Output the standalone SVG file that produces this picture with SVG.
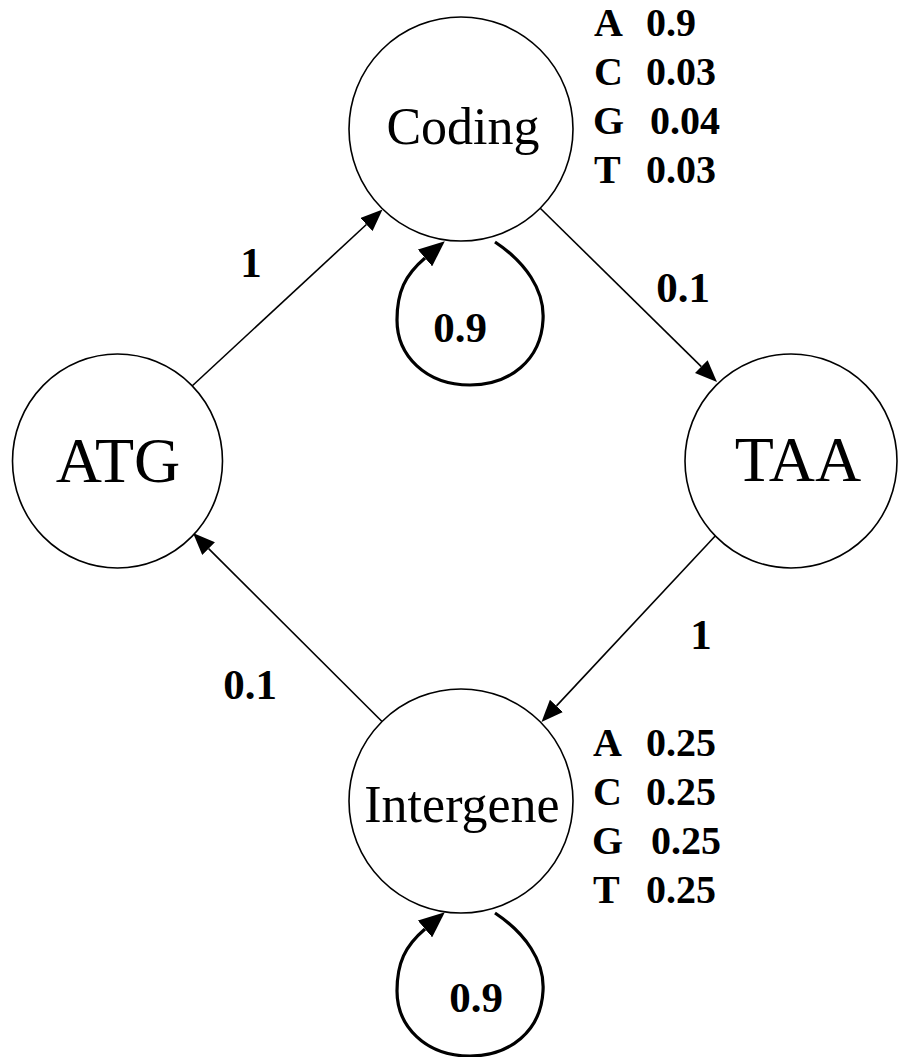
<svg xmlns="http://www.w3.org/2000/svg" width="900" height="1057" viewBox="0 0 900 1057">
<style>
.node{fill:#fff;stroke:#000;stroke-width:1.6}
.edge{fill:none;stroke:#000;stroke-width:1.6}
.loop{fill:none;stroke:#000;stroke-width:3.2}
.big{font-family:"Liberation Serif","Times New Roman",serif;font-size:64px;fill:#000;text-anchor:middle}
.mid{font-family:"Liberation Serif","Times New Roman",serif;font-size:52px;fill:#000;text-anchor:middle}
.lab{font-family:"Liberation Serif","Times New Roman",serif;font-size:43px;font-weight:bold;fill:#000;text-anchor:middle}
.em{font-family:"Liberation Serif","Times New Roman",serif;font-size:40px;font-weight:bold;fill:#000}
</style>
<defs>
<marker id="ah" markerUnits="userSpaceOnUse" markerWidth="22" markerHeight="18" viewBox="0 0 22 18" refX="0" refY="9" orient="auto">
<path d="M0,0 L22,9 L0,18 z" fill="#000"/>
</marker>
<marker id="ahl" markerUnits="userSpaceOnUse" markerWidth="26" markerHeight="22" viewBox="0 0 26 22" refX="0" refY="11" orient="auto">
<path d="M0,0 L26,11 L0,22 z" fill="#000"/>
</marker>
</defs>
<g id="connectors">
<line class="edge" x1="191" y1="387" x2="366.4" y2="224.5" marker-end="url(#ah)"/>
<line class="edge" x1="540" y1="208" x2="701.3" y2="366.6" marker-end="url(#ah)"/>
<line class="edge" x1="718" y1="533" x2="556.5" y2="705.9" marker-end="url(#ah)"/>
<line class="edge" x1="382.5" y1="722" x2="208.6" y2="548.6" marker-end="url(#ah)"/>
<path class="loop" d="M495,242 C525,262 545,290 543,320 C541,360 510,385 470,385 C425,385 397,355 397,320 C397,292 405,275 425,258" marker-end="url(#ahl)"/>
<path class="loop" d="M495,913 C525,933 545,961 543,991 C541,1031 510,1056 470,1056 C425,1056 397,1026 397,991 C397,963 405,946 425,929" marker-end="url(#ahl)"/>
<text class="lab" x="251" y="277">1</text>
<text class="lab" x="683" y="302">0.1</text>
<text class="lab" x="460" y="342">0.9</text>
<text class="lab" x="701" y="649">1</text>
<text class="lab" x="250" y="699">0.1</text>
<text class="lab" x="476" y="1012">0.9</text>
</g>
<g id="coding">
<circle class="node" cx="461" cy="129" r="112"/>
<text class="mid" x="463" y="144">Coding</text>
</g>
<g id="atg">
<ellipse class="node" cx="117.5" cy="461" rx="105" ry="107"/>
<text class="big" x="118" y="482">ATG</text>
</g>
<g id="taa">
<ellipse class="node" cx="791" cy="461" rx="106" ry="107"/>
<text class="big" x="798" y="481">TAA</text>
</g>
<g id="intergene">
<circle class="node" cx="461" cy="801" r="112"/>
<text class="mid" x="462" y="822">Intergene</text>
</g>
<g id="coding-emissions">
<text class="em" y="36"><tspan x="594">A</tspan><tspan x="646">0.9</tspan></text>
<text class="em" y="85"><tspan x="594">C</tspan><tspan x="646">0.03</tspan></text>
<text class="em" y="134"><tspan x="593">G</tspan><tspan x="650">0.04</tspan></text>
<text class="em" y="183"><tspan x="594">T</tspan><tspan x="646">0.03</tspan></text>
</g>
<g id="intergene-emissions">
<text class="em" y="756"><tspan x="593">A</tspan><tspan x="646">0.25</tspan></text>
<text class="em" y="805"><tspan x="593">C</tspan><tspan x="646">0.25</tspan></text>
<text class="em" y="854"><tspan x="592">G</tspan><tspan x="651">0.25</tspan></text>
<text class="em" y="903"><tspan x="593">T</tspan><tspan x="646">0.25</tspan></text>
</g>
</svg>
